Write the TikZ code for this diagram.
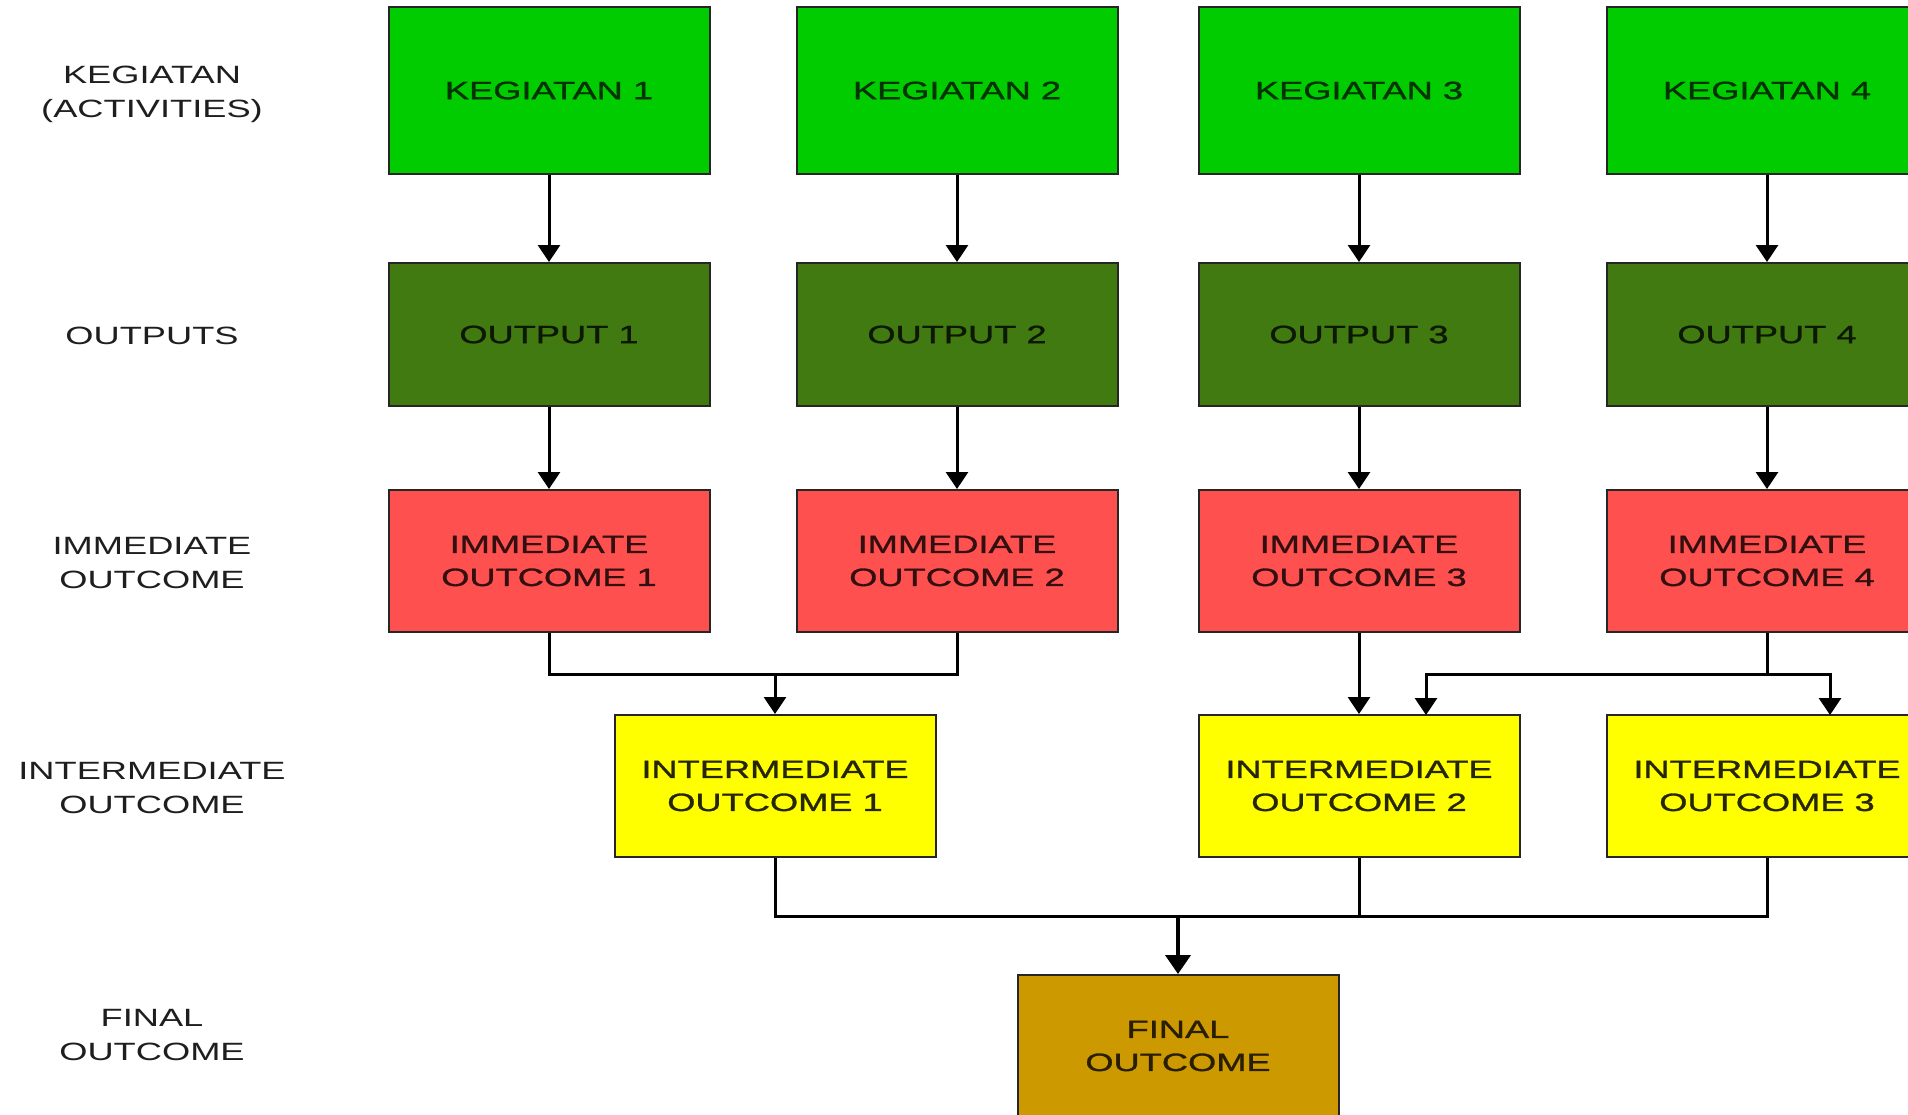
\documentclass[tikz,border=0pt]{standalone}
\usepackage{fontspec}
\newfontfamily\wfont[FakeStretch=1.45]{Liberation Sans}
\newfontfamily\bfont[FakeStretch=1.45,FakeBold=1.2]{Liberation Sans}
\usetikzlibrary{arrows.meta}
\definecolor{kgreen}{RGB}{0,204,0}
\definecolor{ogreen}{RGB}{64,122,16}
\definecolor{ired}{RGB}{255,80,80}
\definecolor{iyellow}{RGB}{255,255,0}
\definecolor{fgold}{RGB}{204,153,0}
\definecolor{labgray}{RGB}{30,30,30}
\tikzset{
  box/.style={draw=black!85, line width=2pt, rectangle, minimum width=321pt, minimum height=142pt,
    align=center, inner sep=0pt, font=\bfont\fontsize{25}{33}\selectfont},
  kbox/.style={box, fill=kgreen, minimum height=167pt, text=black!75!kgreen},
  obox/.style={box, fill=ogreen, minimum height=143pt, text=black!80!ogreen},
  ibox/.style={box, fill=ired, text=black!80!ired},
  mbox/.style={box, fill=iyellow, text=black!85!iyellow},
  fbox/.style={box, fill=fgold, text=black!80!fgold},
  lab/.style={align=center, inner sep=0pt, text=labgray, font=\wfont\fontsize{25}{34}\selectfont},
  conn/.style={line width=3pt, black},
  arr/.style={conn, -{Triangle[length=17pt,width=22pt]}},
}
\begin{document}
\begin{tikzpicture}[x=1pt,y=-1pt]
\clip (0,0) rectangle (1908,1114);
\fill[white] (0,0) rectangle (1908,1114);
% left labels
\node[lab] (l1) at (152,94) {KEGIATAN\\(ACTIVITIES)};
\node[lab] (l2) at (152,336) {OUTPUTS};
\node[lab] (l3) at (152,563) {IMMEDIATE\\OUTCOME};
\node[lab] (l4) at (152,788) {INTERMEDIATE\\OUTCOME};
\node[lab] (l5) at (152,1035) {FINAL\\OUTCOME};
% row 1
\node[kbox] (k1) at (549,90.5) {KEGIATAN 1};
\node[kbox] (k2) at (957,90.5) {KEGIATAN 2};
\node[kbox] (k3) at (1359,90.5) {KEGIATAN 3};
\node[kbox] (k4) at (1767,90.5) {KEGIATAN 4};
% row 2
\node[obox] (o1) at (549,334.5) {OUTPUT 1};
\node[obox] (o2) at (957,334.5) {OUTPUT 2};
\node[obox] (o3) at (1359,334.5) {OUTPUT 3};
\node[obox] (o4) at (1767,334.5) {OUTPUT 4};
% row 3
\node[ibox] (m1) at (549,561) {IMMEDIATE\\OUTCOME 1};
\node[ibox] (m2) at (957,561) {IMMEDIATE\\OUTCOME 2};
\node[ibox] (m3) at (1359,561) {IMMEDIATE\\OUTCOME 3};
\node[ibox] (m4) at (1767,561) {IMMEDIATE\\OUTCOME 4};
% row 4
\node[mbox] (n1) at (775,786) {INTERMEDIATE\\OUTCOME 1};
\node[mbox] (n2) at (1359,786) {INTERMEDIATE\\OUTCOME 2};
\node[mbox] (n3) at (1767,786) {INTERMEDIATE\\OUTCOME 3};
% row 5
\node[fbox] (f) at (1178,1046) {FINAL\\OUTCOME};
% arrows down
\foreach \i in {1,2,3,4}{
  \draw[arr] (k\i.south) -- (o\i.north);
  \draw[arr] (o\i.south) -- (m\i.north);
}
% immediate 1,2 -> intermediate 1
\coordinate (j1) at (775,674);
\draw[conn] (m1.south) |- (j1) -| (m2.south);
\draw[arr] (j1) -- (n1.north);
% immediate 3 -> intermediate 2
\draw[arr] (m3.south) -- (n2.north);
% immediate 4 -> intermediate 2 and 3
\coordinate (j2) at (1767,674);
\coordinate (t2) at (1426,715);
\coordinate (t3) at (1830,715);
\draw[conn] (m4.south) -- (j2);
\draw[arr] (j2) -| (t2);
\draw[arr] (j2) -| (t3);
% intermediate -> final
\coordinate (j3) at (1178,916);
\draw[conn] (n1.south) |- (j3) -| (n3.south);
\draw[conn] (n2.south) -- (n2.south |- j3);
\draw[line width=4pt, -{Triangle[length=19pt,width=25pt]}] (j3) -- (f.north);
\end{tikzpicture}
\end{document}
